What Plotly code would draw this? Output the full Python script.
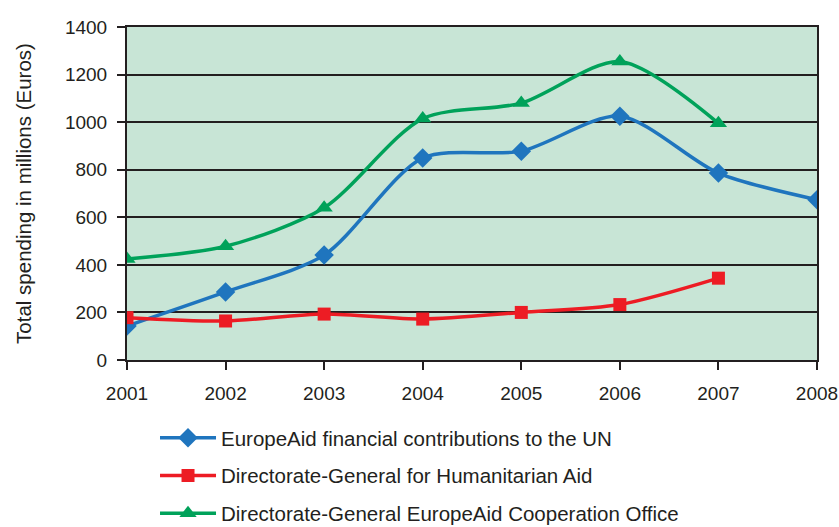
import plotly.graph_objects as go

years = [2001, 2002, 2003, 2004, 2005, 2006, 2007, 2008]
europeaid_un = [143, 286, 441, 849, 878, 1025, 786, 674]
dg_humanitarian = [178, 164, 193, 172, 200, 233, 344]
dg_cooperation = [425, 478, 640, 1015, 1080, 1255, 995]

names = ["EuropeAid financial contributions to the UN",
         "Directorate-General for Humanitarian Aid",
         "Directorate-General EuropeAid Cooperation Office"]
colors = ["#1f75be", "#ed1c24", "#00a25a"]
symbols = ["diamond", "square", "triangle-up"]
sizes = [15, 13, 15]
series = [europeaid_un, dg_humanitarian, dg_cooperation]

fig = go.Figure()
for i, (n, c, s, sz, v) in enumerate(zip(names, colors, symbols, sizes, series)):
    fig.add_trace(go.Scatter(
        x=years[:len(v)], y=v, name=n, mode="lines+markers",
        line=dict(color=c, width=3.5, shape="spline", smoothing=0.8),
        marker=dict(symbol=s, size=sz, color=c),
        legendgroup=str(i),
    ))

font = "Liberation Sans, Arial, sans-serif"
fig.update_layout(
    width=839, height=527,
    margin=dict(l=127, r=22, t=27, b=167),
    paper_bgcolor="white", plot_bgcolor="#c8e5d6",
    font=dict(family=font, size=19, color="#231f20"),
    showlegend=True,
    legend=dict(orientation="v", x=0.0406, xanchor="left", yref="container",
                y=0.2068, yanchor="top",
                font=dict(size=20.5), tracegroupgap=8, itemwidth=56,
                bgcolor="rgba(0,0,0,0)"),
    xaxis=dict(range=[2001, 2008], tickvals=years, ticktext=[str(y) for y in years],
               showgrid=False, zeroline=False, showline=True, linecolor="#231f20",
               linewidth=2, mirror=True, ticks="outside", ticklen=8, tickwidth=2,
               tickcolor="#231f20", tickfont=dict(size=19), ticklabelstandoff=7,
               automargin=False),
    yaxis=dict(range=[0, 1400], dtick=200, showgrid=True, gridcolor="#231f20",
               gridwidth=2, zeroline=False, showline=True, linecolor="#231f20",
               linewidth=2, mirror=True, ticks="outside", ticklen=8, tickwidth=2,
               tickcolor="#231f20", tickfont=dict(size=19), ticklabelstandoff=6,
               automargin=False,
               title=dict(text="Total spending in millions (Euros)", font=dict(size=20.5),
                          standoff=28)),
)
fig.write_html("out.html", config={"displayModeBar": False},
               post_script="document.body.style.margin='0';")
